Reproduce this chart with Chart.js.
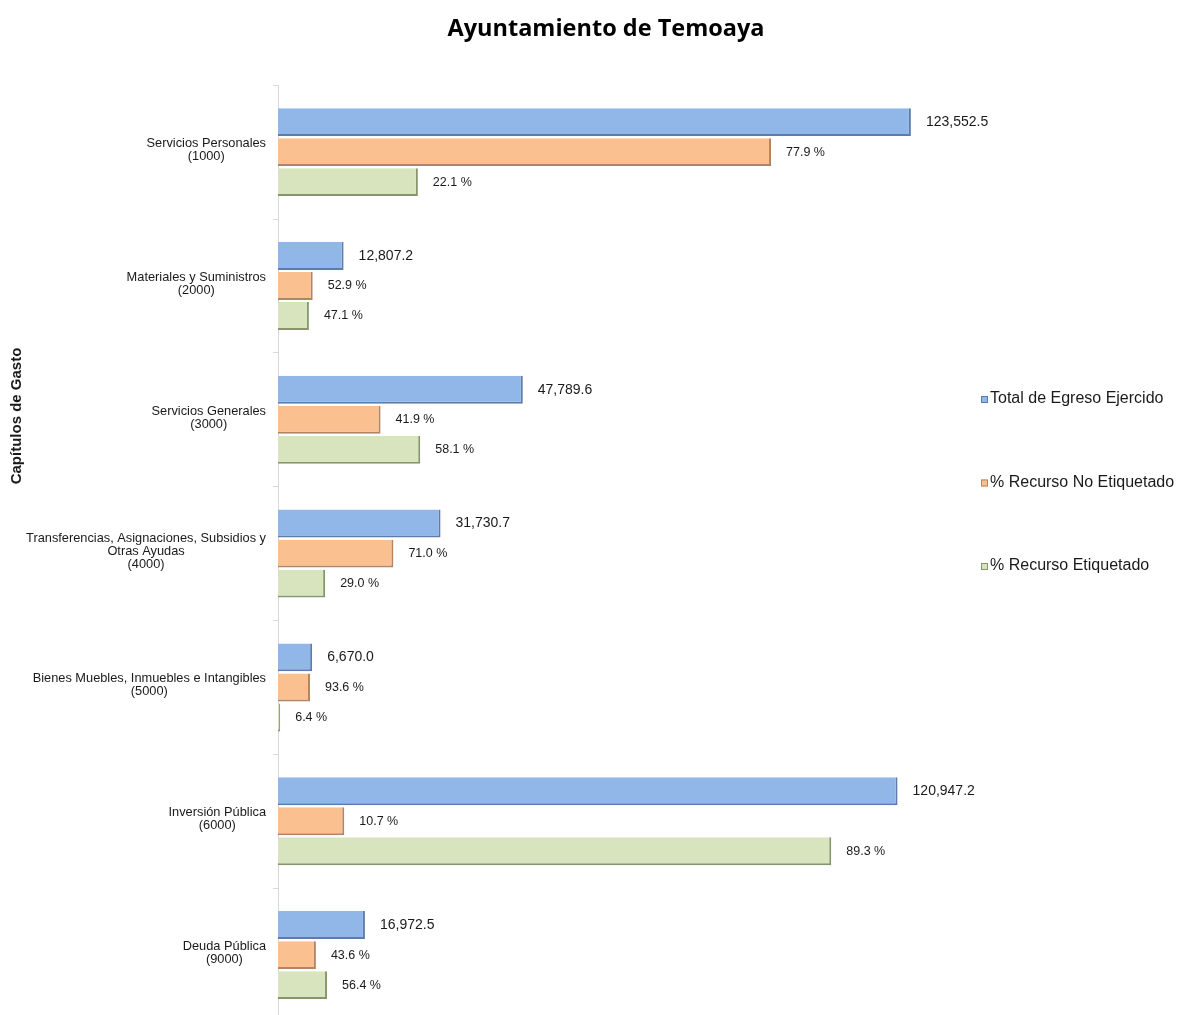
<!DOCTYPE html>
<html>
<head>
<meta charset="utf-8">
<script src="https://cdn.jsdelivr.net/npm/chart.js@4/dist/chart.umd.min.js"></script>
<style>
  html, body { margin: 0; padding: 0; background: #fff; overflow: hidden; }
  #wrap { width: 1177px; height: 1022px; }
</style>
</head>
<body>
<div id="wrap"><canvas id="chart" width="1177" height="1022"></canvas></div>
<script>
// capítulos de gasto (labels en varias líneas)
const categories = [
  ["Servicios Personales", "(1000)"],
  ["Materiales y Suministros", "(2000)"],
  ["Servicios Generales", "(3000)"],
  ["Transferencias, Asignaciones, Subsidios y", "Otras Ayudas", "(4000)"],
  ["Bienes Muebles, Inmuebles e Intangibles", "(5000)"],
  ["Inversión Pública", "(6000)"],
  ["Deuda Pública", "(9000)"],
];
const seriesNames = ["Total de Egreso Ejercido", "% Recurso No Etiquetado", "% Recurso Etiquetado"];
const totals = [123552.5, 12807.2, 47789.6, 31730.7, 6670.0, 120947.2, 16972.5];
const pctNoEtiquetado = [77.9, 52.9, 41.9, 71.0, 93.6, 10.7, 43.6];
const pctEtiquetado = [22.1, 47.1, 58.1, 29.0, 6.4, 89.3, 56.4];

// the percentage bars are drawn as the share of the total amount
const montoNoEtiq = totals.map((t, i) => t * pctNoEtiquetado[i] / 100);
const montoEtiq = totals.map((t, i) => t * pctEtiquetado[i] / 100);

const FONT = "'Liberation Sans', Arial, sans-serif";
const fills = ["#90b7e8", "#fac090", "#d7e4bd"];
const edges = ["#5b7dab", "#b38462", "#86966a"];

const fmtTotal = v => v.toLocaleString("en-US", { minimumFractionDigits: 1, maximumFractionDigits: 1 });
const fmtPct = v => v.toFixed(1) + " %";

const valueLabels = {
  id: "valueLabels",
  afterDatasetsDraw(chart) {
    const ctx = chart.ctx;
    ctx.save();
    ctx.fillStyle = "#1a1a1a";
    ctx.textBaseline = "middle";
    ctx.textAlign = "left";
    chart.data.datasets.forEach((ds, i) => {
      const meta = chart.getDatasetMeta(i);
      meta.data.forEach((bar, j) => {
        let text;
        if (i === 0) text = fmtTotal(totals[j]);
        else if (i === 1) text = fmtPct(pctNoEtiquetado[j]);
        else text = fmtPct(pctEtiquetado[j]);
        ctx.font = (i === 0 ? "14px " : "12.5px ") + FONT;
        ctx.fillText(text, bar.x + 15, bar.y);
      });
    });
    ctx.restore();
  }
};

// category labels: lines centred on each other, block right-aligned to the axis
const categoryLabels = {
  id: "categoryLabels",
  afterDraw(chart) {
    const ctx = chart.ctx;
    const y = chart.scales.y;
    ctx.save();
    ctx.font = "12.8px " + FONT;
    ctx.fillStyle = "#1a1a1a";
    ctx.textAlign = "center";
    ctx.textBaseline = "middle";
    const lh = 13;
    categories.forEach((lines, i) => {
      const cy = y.getPixelForValue(i) - 2;
      const w = Math.max(...lines.map(l => ctx.measureText(l).width));
      const cx = chart.chartArea.left - 12 - w / 2;
      lines.forEach((l, k) => {
        ctx.fillText(l, cx, cy + (k - (lines.length - 1) / 2) * lh);
      });
    });
    // axis title
    ctx.font = "bold 15px " + FONT;
    ctx.translate(17, 416);
    ctx.rotate(-Math.PI / 2);
    ctx.fillText("Capítulos de Gasto", 0, 0);
    ctx.restore();
  }
};

const sideLegend = {
  id: "sideLegend",
  afterDraw(chart) {
    const ctx = chart.ctx;
    ctx.save();
    ctx.font = "16px " + FONT;
    ctx.textBaseline = "middle";
    ctx.textAlign = "left";
    chart.data.datasets.forEach((ds, i) => {
      const yy = 399 + i * 83.5;
      const x0 = 981;
      ctx.fillStyle = ds.backgroundColor;
      ctx.fillRect(x0, yy - 3, 7, 7);
      ctx.strokeStyle = ds.borderColor;
      ctx.lineWidth = 1;
      ctx.strokeRect(x0 + 0.5, yy - 2.5, 6, 6);
      ctx.fillStyle = "#1a1a1a";
      ctx.fillText(ds.label, x0 + 9, yy);
    });
    ctx.restore();
  }
};

const barBorder = { top: 0, left: 0, right: 2, bottom: 2 };

new Chart(document.getElementById("chart"), {
  type: "bar",
  data: {
    labels: categories.map(c => c.join(" ")),
    datasets: [
      { label: seriesNames[0], data: totals, backgroundColor: fills[0], borderColor: edges[0] },
      { label: seriesNames[1], data: montoNoEtiq, backgroundColor: fills[1], borderColor: edges[1] },
      { label: seriesNames[2], data: montoEtiq, backgroundColor: fills[2], borderColor: edges[2] },
    ].map(d => Object.assign(d, {
      borderWidth: barBorder,
      borderSkipped: false,
      categoryPercentage: 0.673,
      barPercentage: 0.93,
    })),
  },
  options: {
    indexAxis: "y",
    responsive: false,
    animation: false,
    layout: { padding: { left: 35, right: 0, top: 0, bottom: 0 } },
    plugins: {
      legend: { display: false },
      tooltip: { enabled: false },
      title: {
        display: true,
        text: "Ayuntamiento de Temoaya",
        color: "#000",
        font: { family: "'Open Sans', sans-serif", size: 23.5, weight: "bold" },
        padding: { top: 15, bottom: 42 },
      },
    },
    scales: {
      x: {
        display: false,
        min: 0,
        max: 175500,
      },
      y: {
        afterFit(scale) { scale.width = 243; },
        ticks: { display: false },
        grid: {
          offset: true,
          drawOnChartArea: false,
          drawTicks: true,
          tickLength: 5,
          color: "#d9d9d9",
        },
        border: { display: true, color: "#d9d9d9" },
      },
    },
  },
  plugins: [valueLabels, categoryLabels, sideLegend],
});
</script>
</body>
</html>
